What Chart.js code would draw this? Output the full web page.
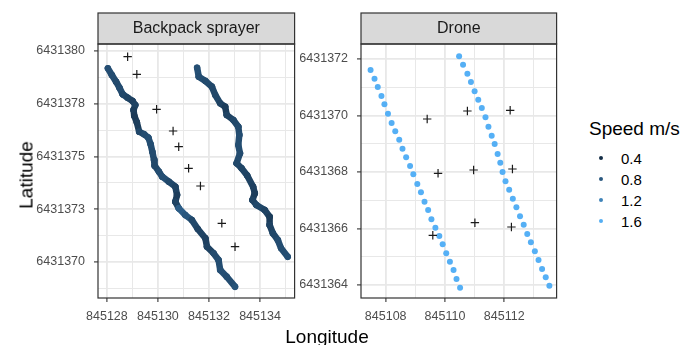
<!DOCTYPE html>
<html>
<head>
<meta charset="utf-8">
<script src="https://cdn.jsdelivr.net/npm/chart.js@4.4.0/dist/chart.umd.min.js"></script>
<style>
  body { margin: 0; width: 685px; height: 345px; overflow: hidden; background: #fff; position: relative;
         font-family: "Liberation Sans", Arial, sans-serif; }
  canvas { position: absolute; top: 0; }
  .t { position: absolute; color: #000; white-space: nowrap; }
</style>
</head>
<body>
<canvas id="bp" width="300" height="345" style="left:0"></canvas>
<canvas id="dr" width="262" height="345" style="left:300px"></canvas>
<div class="t" style="left:26px;top:175px;font-size:19px;line-height:19px;transform:translate(-50%,-50%) rotate(-90deg)">Latitude</div>
<div class="t" style="left:327px;top:327px;font-size:19px;line-height:19px;transform:translateX(-50%)">Longitude</div>
<div id="legend"></div>
<script>
// ---- Backpack sprayer: two tracks, target crosses ----
const bpTrack1X = [845128.039, 845128.194, 845128.360, 845128.492, 845128.619, 845128.813, 845129.007, 845129.111,
  845129.045, 845129.072, 845129.173, 845129.266, 845129.460, 845129.626, 845129.715, 845129.781, 845129.847,
  845129.870, 845130.040, 845130.168, 845130.427, 845130.683, 845130.749, 845130.683, 845130.815, 845131.070,
  845131.329, 845131.562, 845131.860, 845131.922, 845132.181, 845132.375, 845132.441, 845132.696, 845133.021];
const bpTrack1Y = [6431379.180, 6431378.863, 6431378.545, 6431378.261, 6431377.948, 6431377.787, 6431377.630,
  6431377.441, 6431377.204, 6431376.934, 6431376.621, 6431376.175, 6431376.052, 6431375.891, 6431375.578,
  6431375.227, 6431374.834, 6431374.564, 6431374.280, 6431374.043, 6431373.806, 6431373.569, 6431373.175,
  6431372.858, 6431372.545, 6431372.227, 6431371.991, 6431371.564, 6431371.123, 6431370.725, 6431370.412,
  6431370.095, 6431369.621, 6431369.303, 6431368.830];
const bpTrack1Speed = [0.71, 0.69, 0.67, 0.69, 0.65, 0.61, 0.58, 0.60, 0.55, 0.51, 0.55, 0.65, 0.70, 0.72, 0.70,
  0.68, 0.66, 0.65, 0.70, 0.72, 0.65, 0.60, 0.55, 0.60, 0.85, 0.79, 0.65, 0.60, 0.58, 0.60, 0.68, 0.70, 0.72,
  0.70, 0.75];

const bpTrack2X = [845131.535, 845131.600, 845131.860, 845132.115, 845132.247, 845132.441, 845132.634, 845132.696,
  845132.955, 845133.149, 845133.188, 845133.149, 845133.215, 845133.083, 845133.277, 845133.497, 845133.730,
  845133.796, 845133.703, 845133.858, 845134.183, 845134.376, 845134.376, 845134.504, 845134.698, 845134.825,
  845135.085];
const bpTrack2Y = [6431379.209, 6431378.782, 6431378.578, 6431378.308, 6431377.915, 6431377.521, 6431377.360,
  6431376.967, 6431376.730, 6431376.412, 6431376.019, 6431375.545, 6431375.152, 6431374.678, 6431374.441,
  6431374.100, 6431373.569, 6431373.256, 6431372.938, 6431372.701, 6431372.464, 6431372.147, 6431371.754,
  6431371.360, 6431371.043, 6431370.649, 6431370.251];
const bpTrack2Speed = [0.72, 0.70, 0.68, 0.65, 0.65, 0.60, 0.55, 0.60, 0.65, 0.68, 0.70, 0.70, 0.68, 0.65, 0.62,
  0.60, 0.58, 0.55, 0.60, 0.65, 0.60, 0.55, 0.60, 0.65, 0.70, 0.70, 0.72];

const bpTargetX = [845128.813, 845129.173, 845129.947, 845130.594, 845130.815, 845131.202, 845131.666, 845132.503, 845133.021];
const bpTargetY = [6431379.730, 6431378.896, 6431377.237, 6431376.209, 6431375.464, 6431374.441, 6431373.602, 6431371.834, 6431370.725];

// ---- Drone: two passes, target crosses ----
const drTrack1X = [845107.490, 845107.623, 845107.733, 845107.857, 845107.957, 845108.077, 845108.200, 845108.323,
  845108.457, 845108.567, 845108.690, 845108.823, 845108.933, 845109.067, 845109.190, 845109.310, 845109.433,
  845109.543, 845109.677, 845109.810, 845109.923, 845110.043, 845110.167, 845110.290, 845110.390, 845110.510];
const drTrack1Y = [6431371.611, 6431371.303, 6431371.009, 6431370.690, 6431370.396, 6431370.064, 6431369.735,
  6431369.441, 6431369.143, 6431368.825, 6431368.520, 6431368.212, 6431367.919, 6431367.575, 6431367.281,
  6431366.949, 6431366.655, 6431366.326, 6431366.028, 6431365.735, 6431365.441, 6431365.122, 6431364.825,
  6431364.531, 6431364.212, 6431363.904];
const drTrack1Speed = [1.61, 1.62, 1.61, 1.62, 1.61, 1.62, 1.61, 1.62, 1.62, 1.61, 1.62, 1.61, 1.62, 1.61, 1.62,
  1.61, 1.62, 1.61, 1.62, 1.61, 1.62, 1.62, 1.61, 1.62, 1.61, 1.62];

const drTrack2X = [845110.477, 845110.610, 845110.757, 845110.877, 845111.000, 845111.123, 845111.243, 845111.367,
  845111.467, 845111.577, 845111.677, 845111.777, 845111.867, 845111.943, 845112.043, 845112.167, 845112.290,
  845112.410, 845112.533, 845112.657, 845112.777, 845112.900, 845113.033, 845113.157, 845113.277, 845113.400,
  845113.523];
const drTrack2Y = [6431372.096, 6431371.798, 6431371.480, 6431371.186, 6431370.857, 6431370.559, 6431370.265,
  6431369.936, 6431369.604, 6431369.285, 6431368.991, 6431368.637, 6431368.329, 6431368.000, 6431367.671,
  6431367.373, 6431367.055, 6431366.750, 6431366.432, 6431366.135, 6431365.805, 6431365.511, 6431365.193,
  6431364.885, 6431364.566, 6431364.273, 6431363.975];
const drTrack2Speed = [1.62, 1.61, 1.62, 1.61, 1.62, 1.62, 1.61, 1.62, 1.61, 1.62, 1.61, 1.62, 1.61, 1.62, 1.62,
  1.61, 1.62, 1.61, 1.62, 1.61, 1.62, 1.61, 1.62, 1.62, 1.61, 1.62, 1.61];

const drTargetX = [845109.400, 845110.757, 845112.200, 845109.767, 845110.967, 845112.277, 845111.010, 845112.243, 845109.590];
const drTargetY = [6431369.876, 6431370.159, 6431370.184, 6431367.954, 6431368.071, 6431368.106, 6431366.205, 6431366.053, 6431365.759];

// ---- Axes ----
const bpXMajor = [845128, 845130, 845132, 845134];
const bpXMinor = [845129, 845131, 845133, 845135];
const bpXLabels = ["845128", "845130", "845132", "845134"];
const bpYMajor = [6431370, 6431372.5, 6431375, 6431377.5, 6431380];
const bpYMinor = [6431368.75, 6431371.25, 6431373.75, 6431376.25, 6431378.75];
const bpYLabels = ["6431370", "6431373", "6431375", "6431378", "6431380"];

const drXMajor = [845108, 845110, 845112];
const drXMinor = [845109, 845111, 845113];
const drXLabels = ["845108", "845110", "845112"];
const drYMajor = [6431364, 6431366, 6431368, 6431370, 6431372];
const drYMinor = [6431365, 6431367, 6431369, 6431371];
const drYLabels = ["6431364", "6431366", "6431368", "6431370", "6431372"];

const legendSpeeds = [0.4, 0.8, 1.2, 1.6];
const speedLimits = [0.38, 1.63];

const FONT = '"Liberation Sans", Arial, sans-serif';

function speedColor(s) {
  const lo = [19, 43, 67], hi = [86, 177, 247];
  const t = Math.max(0, Math.min(1, (s - speedLimits[0]) / (speedLimits[1] - speedLimits[0])));
  const c = lo.map((v, i) => Math.round(v + (hi[i] - v) * t));
  return `rgb(${c[0]},${c[1]},${c[2]})`;
}

function pts(xs, ys) { return xs.map((x, i) => ({ x: x, y: ys[i] })); }

function track(xs, ys, sp) {
  return {
    data: pts(xs, ys), showLine: true, order: 2,
    borderWidth: 6.5, borderCapStyle: 'round', borderJoinStyle: 'round',
    borderColor: speedColor(sp[0]),
    segment: { borderColor: c => speedColor(sp[c.p0DataIndex]) },
    pointRadius: 3.2, pointBorderWidth: 0, pointBackgroundColor: sp.map(speedColor)
  };
}

function dots(xs, ys, sp) {
  return { data: pts(xs, ys), order: 2, pointRadius: 3, pointBorderWidth: 0,
           pointBackgroundColor: sp.map(speedColor) };
}

function targets(xs, ys) {
  return { data: pts(xs, ys), order: 0, pointStyle: 'cross', pointRadius: 4.2,
           borderColor: '#1a1a1a', pointBorderWidth: 1.2 };
}

function axis(min, max, major, minor, labels, horizontal, size) {
  const all = major.concat(minor).sort((a, b) => a - b);
  const isMajor = v => major.includes(v);
  return {
    type: 'linear', min: min, max: max,
    afterBuildTicks: s => { s.ticks = all.map(v => ({ value: v })); },
    afterFit: s => { if (horizontal) s.height = size; else s.width = size; },
    border: { display: false },
    grid: {
      color: '#e8e8e8',
      lineWidth: c => (c.tick && isMajor(c.tick.value)) ? 1.8 : 1,
      tickColor: c => (c.tick && isMajor(c.tick.value)) ? '#333333' : 'rgba(0,0,0,0)',
      tickLength: 4, tickWidth: 1.1
    },
    ticks: {
      autoSkip: false, maxRotation: 0, minRotation: 0,
      padding: horizontal ? 7 : 9,
      color: '#4d4d4d', font: { family: FONT, size: 12.5 },
      callback: v => { const i = major.indexOf(v); return i < 0 ? '' : labels[i]; }
    }
  };
}

// panel border and grey facet strip on top of the chart area
const facet = {
  id: 'facet',
  afterDraw(chart, args, opts) {
    const a = chart.chartArea, ctx = chart.ctx;
    ctx.save();
    ctx.fillStyle = '#d9d9d9';
    ctx.fillRect(a.left, a.top - 31, a.right - a.left, 31);
    ctx.strokeStyle = '#333333';
    ctx.lineWidth = 1.2;
    ctx.strokeRect(a.left, a.top - 31, a.right - a.left, 31);
    ctx.strokeRect(a.left, a.top, a.right - a.left, a.bottom - a.top);
    ctx.fillStyle = '#1a1a1a';
    ctx.font = '16px ' + FONT;
    ctx.textAlign = 'center';
    ctx.textBaseline = 'middle';
    ctx.fillText(opts.text, (a.left + a.right) / 2, a.top - 15);
    ctx.restore();
  }
};

function panel(id, title, datasets, xs, ys) {
  new Chart(document.getElementById(id), {
    type: 'scatter',
    data: { datasets: datasets },
    options: {
      animation: false, responsive: false, devicePixelRatio: 1,
      layout: { padding: { top: 44, right: 3, bottom: 17, left: 0 } },
      plugins: { legend: { display: false }, tooltip: { enabled: false }, facet: { text: title } },
      scales: { x: xs, y: ys }
    },
    plugins: [facet]
  });
}

panel('bp', 'Backpack sprayer', [
    targets(bpTargetX, bpTargetY),
    track(bpTrack1X, bpTrack1Y, bpTrack1Speed),
    track(bpTrack2X, bpTrack2Y, bpTrack2Speed)
  ],
  axis(845127.652, 845135.355, bpXMajor, bpXMinor, bpXLabels, true, 30),
  axis(6431368.294, 6431380.332, bpYMajor, bpYMinor, bpYLabels, false, 98));

panel('dr', 'Drone', [
    targets(drTargetX, drTargetY),
    dots(drTrack1X, drTrack1Y, drTrack1Speed),
    dots(drTrack2X, drTrack2Y, drTrack2Speed)
  ],
  axis(845107.167, 845113.767, drXMajor, drXMinor, drXLabels, true, 30),
  axis(6431363.540, 6431372.531, drYMajor, drYMinor, drYLabels, false, 61));

// legend
let html = '<div class="t" style="left:589px;top:119px;font-size:19px;line-height:19px">Speed m/s</div>';
legendSpeeds.forEach((s, i) => {
  const cy = 158 + i * 21;
  html += `<div style="position:absolute;left:599px;top:${cy - 2}px;width:4.4px;height:4.4px;border-radius:50%;background:${speedColor(s)}"></div>`;
  html += `<div class="t" style="left:621px;top:${cy - 7}px;font-size:15px;line-height:15px">${s.toFixed(1)}</div>`;
});
document.getElementById('legend').innerHTML = html;
</script>
</body>
</html>
